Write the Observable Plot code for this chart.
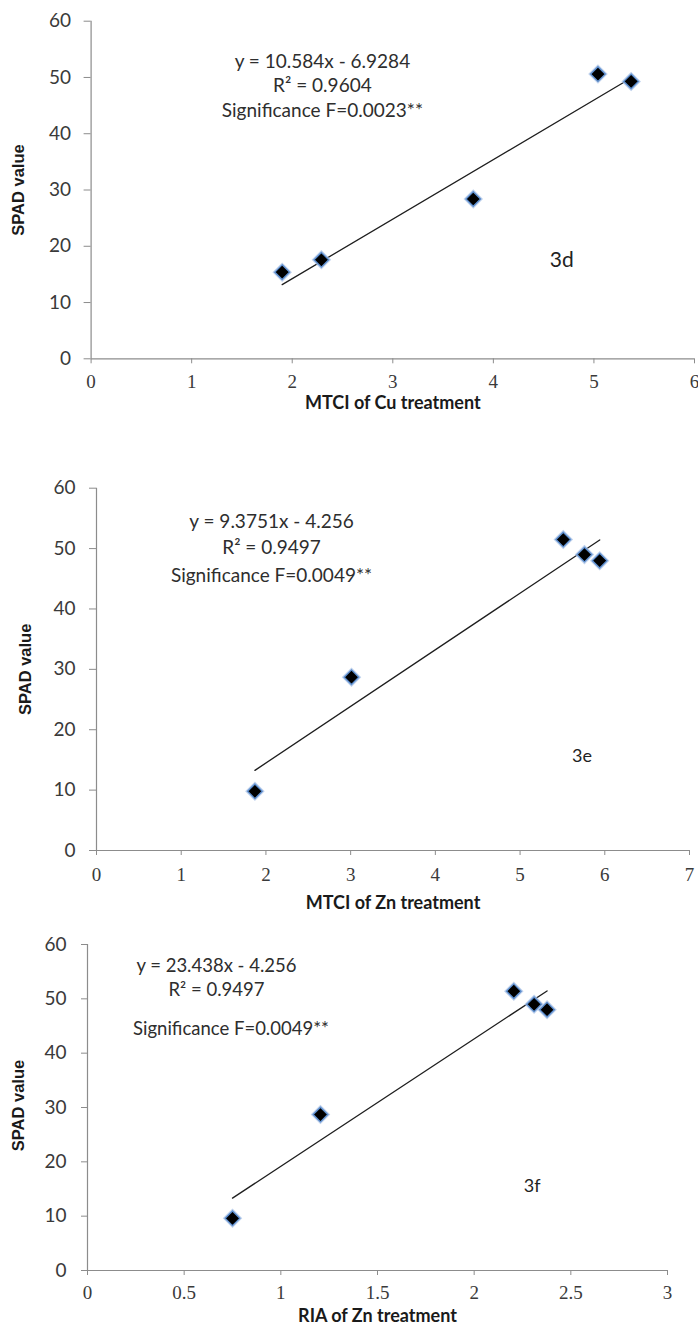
<!DOCTYPE html>
<html><head><meta charset="utf-8">
<script src="https://cdn.jsdelivr.net/npm/d3@7"></script>
<script src="https://cdn.jsdelivr.net/npm/@observablehq/plot@0.6"></script>
<style>
html,body{margin:0;padding:0;background:#fff;}
#wrap{width:698px;}
#wrap svg{display:block;overflow:visible;}
</style></head><body><div id="wrap"></div>
<script>
// ---- data ----
const yTicks = [0, 10, 20, 30, 40, 50, 60];
const xTicksCu = [0, 1, 2, 3, 4, 5, 6];
const xTicksZnMTCI = [0, 1, 2, 3, 4, 5, 6, 7];
const xTicksZnRIA = [0, 0.5, 1, 1.5, 2, 2.5, 3];

const mtciCu = [1.90, 2.29, 3.80, 5.04, 5.37];
const spadCu = [15.4, 17.6, 28.4, 50.6, 49.3];
const mtciZn = [1.87, 3.01, 5.51, 5.76, 5.94];
const spadZn = [9.8, 28.7, 51.5, 49.0, 48.0];
const riaZn = [0.75, 1.205, 2.205, 2.31, 2.377];
const spadZnRIA = [9.6, 28.7, 51.4, 49.0, 48.0];

const slopes = [10.584, 9.3751, 23.438];
const intercepts = [-6.9284, -4.256, -4.256];
const eqTexts = ["y = 10.584x - 6.9284", "y = 9.3751x - 4.256", "y = 23.438x - 4.256"];
const r2Texts = ["R² = 0.9604", "R² = 0.9497", "R² = 0.9497"];
const sigTexts = ["Significance F=0.0023**", "Significance F=0.0049**", "Significance F=0.0049**"];
const panelTags = ["3d", "3e", "3f"];
const xTitles = ["MTCI of Cu treatment", "MTCI of Zn treatment", "RIA of Zn treatment"];
const yTitle = "SPAD value";

// ---- layout (pixels / anchor positions) ----
const layouts = [
  {h: 440, mt: 20.7, mb: 81.7, ml: 90.6, mr: 4, ytk: 7, ytp: 13, xtp: 11,
   eq: [2.30, 52.8], r2: [2.30, 48.45], sig: [2.30, 44.1], tag: [4.68, 17.5], tagSize: 21,
   xt: 50, yt: -72.5, ytdy: 0, annSize: 19},
  {h: 480, mt: 47.7, mb: 70, ml: 96, mr: 9, ytk: 7, ytp: 14, xtp: 12,
   eq: [2.066, 54.5], r2: [2.066, 50.1], sig: [2.066, 45.55], tag: [5.73, 15.6], tagSize: 18,
   xt: 58, yt: -71, ytdy: 0, annSize: 19},
  {h: 410, mt: 24, mb: 60, ml: 87, mr: 31, ytk: 6, ytp: 15, xtp: 10,
   eq: [0.667, 56.1], r2: [0.667, 51.7], sig: [0.742, 44.5], tag: [2.30, 15.5], tagSize: 18,
   xt: 51, yt: -68.7, ytdy: -2, annSize: 18.5}
];

const AX = "#8c8c8c";
const SANS = "Lato, 'Open Sans', sans-serif";

function panel(i, xs, ys, xTicks, L) {
  const pts = xs.map((x, j) => ({x, y: ys[j]}));
  const fit = [d3.min(xs), d3.max(xs)].map(x => ({x, y: slopes[i] * x + intercepts[i]}));
  const ann = [
    {x: L.eq[0], y: L.eq[1], t: eqTexts[i]},
    {x: L.r2[0], y: L.r2[1], t: r2Texts[i]},
    {x: L.sig[0], y: L.sig[1], t: sigTexts[i]}
  ];
  const xmin = d3.min(xTicks), xmax = d3.max(xTicks);
  return Plot.plot({
    width: 698, height: L.h,
    marginTop: L.mt, marginBottom: L.mb, marginLeft: L.ml, marginRight: L.mr,
    x: {domain: [xmin, xmax]},
    y: {domain: [d3.min(yTicks), d3.max(yTicks)]},
    style: {background: "#fff", overflow: "visible"},
    marks: [
      Plot.ruleX([xmin], {y1: d3.min(yTicks), y2: d3.max(yTicks), stroke: AX, strokeWidth: 1.2}),
      Plot.ruleY([0], {x1: xmin, x2: xmax, stroke: AX, strokeWidth: 1.2}),
      Plot.axisY(yTicks, {tickSize: L.ytk, tickPadding: L.ytp, stroke: AX, fill: "#3a3a3a",
        fontSize: 19, fontFamily: SANS, label: null}),
      Plot.axisX(xTicks, {tickSize: 5, tickPadding: L.xtp, stroke: AX, fill: "#3a3a3a",
        tickFormat: d => String(d),
        fontSize: 19, fontFamily: "'Liberation Serif', 'DejaVu Serif', serif", label: null}),
      Plot.line(fit, {x: "x", y: "y", stroke: "#1e1e1e", strokeWidth: 1.3}),
      Plot.dot(pts, {x: "x", y: "y", symbol: "diamond2", r: 8.8, fill: "#a9c2e6", fillOpacity: 0.75}),
      Plot.dot(pts, {x: "x", y: "y", symbol: "diamond2", r: 6.6, fill: "#000", stroke: "#5d8fd0", strokeWidth: 1.3}),
      Plot.text(ann, {x: "x", y: "y", text: "t", fontSize: L.annSize, fontFamily: SANS, fill: "#2e2e2e", textAnchor: "middle"}),
      Plot.text([panelTags[i]], {x: L.tag[0], y: L.tag[1], text: d => d, fontSize: L.tagSize, fontFamily: SANS, fill: "#222"}),
      Plot.text([xTitles[i]], {frameAnchor: "bottom", dy: L.xt, text: d => d, fontSize: 18, fontWeight: "bold", fontFamily: SANS, fill: "#1a1a1a"}),
      Plot.text([yTitle], {frameAnchor: "left", dx: L.yt, dy: L.ytdy, rotate: -90, textAnchor: "middle", text: d => d,
        fontSize: 16.5, fontWeight: "bold", fontFamily: "'Liberation Sans', Arial, sans-serif", fill: "#1a1a1a"})
    ]
  });
}

const wrap = document.getElementById("wrap");
wrap.appendChild(panel(0, mtciCu, spadCu, xTicksCu, layouts[0]));
wrap.appendChild(panel(1, mtciZn, spadZn, xTicksZnMTCI, layouts[1]));
wrap.appendChild(panel(2, riaZn, spadZnRIA, xTicksZnRIA, layouts[2]));
</script></body></html>
